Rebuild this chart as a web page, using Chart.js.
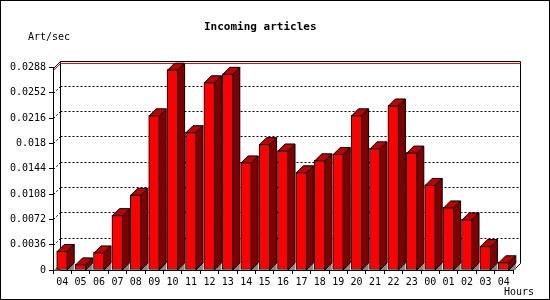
<!DOCTYPE html>
<html>
<head>
<meta charset="utf-8">
<script src="https://cdn.jsdelivr.net/npm/chart.js@4"></script>
<style>
  body { margin: 0; background: #fff; }
  #wrap { width: 550px; height: 300px; }
</style>
</head>
<body>
<div id="wrap"><canvas id="inChart" width="550" height="300"></canvas></div>
<script>
// data
const hours = ['04','05','06','07','08','09','10','11','12','13','14','15','16','17','18','19','20','21','22','23','00','01','02','03','04'];
const artPerSec = [0.0027, 0.0008, 0.0025, 0.0078, 0.0107, 0.0220, 0.0285, 0.0196, 0.0267, 0.0279, 0.0153, 0.0179, 0.0170, 0.0139, 0.0156, 0.0165, 0.0220, 0.0173, 0.0234, 0.0167, 0.0121, 0.0089, 0.0072, 0.0034, 0.0011];
const yTicks = [0, 0.0036, 0.0072, 0.0108, 0.0144, 0.018, 0.0216, 0.0252, 0.0288];
const yTickLabels = ['0', '0.0036', '0.0072', '0.0108', '0.0144', '0.018', '0.0216', '0.0252', '0.0288'];

const DEPTH = 7;
const MONO = '"DejaVu Sans Mono", "Liberation Mono", monospace';

function line(c, x1, y1, x2, y2) {
    c.beginPath();
    c.moveTo(x1, y1);
    c.lineTo(x2, y2);
    c.stroke();
}

// back wall, dotted grid and max line
const backWall = {
    id: 'backWall',
    beforeDatasetsDraw(chart) {
        const c = chart.ctx;
        const a = chart.chartArea;
        const y = chart.scales.y;
        const L = Math.round(a.left) + 0.5, R = Math.round(a.right) + 0.5;
        const T = Math.round(a.top) + 0.5, B = Math.round(a.bottom) + 0.5;
        c.save();
        c.lineWidth = 1;
        c.strokeStyle = '#000';
        c.setLineDash([2, 2]);
        yTicks.forEach(v => {
            if (v === 0 || v === yTicks[yTicks.length - 1]) return;
            const py = Math.round(y.getPixelForValue(v)) + 0.5;
            line(c, L + DEPTH, py - DEPTH, R + DEPTH, py - DEPTH);
            line(c, L, py, L + DEPTH, py - DEPTH);
        });
        c.setLineDash([]);
        // floor shadow in the left corner
        c.fillStyle = '#888';
        c.beginPath();
        c.moveTo(L, B); c.lineTo(L + DEPTH, B - DEPTH); c.lineTo(L + DEPTH, B);
        c.closePath(); c.fill();
        // frame of the back wall
        line(c, L + DEPTH, T - DEPTH, R + DEPTH, T - DEPTH);
        line(c, L + DEPTH, T - DEPTH, L + DEPTH, B - DEPTH);
        line(c, R + DEPTH, T - DEPTH, R + DEPTH, B - DEPTH);
        line(c, L, T, L + DEPTH, T - DEPTH);
        line(c, R, B, R + DEPTH, B - DEPTH);
        // max value line
        const my = Math.round(y.getPixelForValue(Math.max(...artPerSec))) + 0.5;
        c.strokeStyle = '#ff0000';
        line(c, L + DEPTH, my - DEPTH, R + DEPTH, my - DEPTH);
        line(c, L, my, L + DEPTH, my - DEPTH);
        c.restore();
    },
    afterDatasetsDraw(chart) {
        const c = chart.ctx;
        const meta = chart.getDatasetMeta(0);
        c.save();
        c.lineWidth = 1;
        c.strokeStyle = '#000';
        meta.data.forEach(bar => {
            const p = bar.getProps(['x', 'y', 'base', 'width'], true);
            const l = p.x - p.width / 2 + 0.5, r = p.x + p.width / 2 - 0.5;
            const t = p.y + 0.5, b = p.base - 0.5;
            // floor shadow
            c.fillStyle = '#888';
            c.beginPath();
            c.moveTo(r, b + 1); c.lineTo(r + DEPTH, b + 1 - DEPTH); c.lineTo(r + DEPTH, b + 1);
            c.closePath(); c.fill();
            // top face
            c.fillStyle = '#c00000';
            c.beginPath();
            c.moveTo(l, t); c.lineTo(l + DEPTH, t - DEPTH); c.lineTo(r + DEPTH, t - DEPTH); c.lineTo(r, t);
            c.closePath(); c.fill(); c.stroke();
            // side face
            c.fillStyle = '#800000';
            c.beginPath();
            c.moveTo(r, t); c.lineTo(r + DEPTH, t - DEPTH); c.lineTo(r + DEPTH, b + 1 - DEPTH); c.lineTo(r, b + 1);
            c.closePath(); c.fill(); c.stroke();
        });
        c.restore();
    },
    afterDraw(chart) {
        const c = chart.ctx;
        c.save();
        c.fillStyle = '#000';
        c.textBaseline = 'middle';
        c.font = 'bold 11px ' + MONO;
        c.fillText('Incoming articles', 204, 27);
        c.font = '10px ' + MONO;
        c.fillText('Art/sec', 28, 37);
        c.fillText('Hours', 504, 292);
        c.strokeStyle = '#000';
        c.lineWidth = 1;
        c.strokeRect(0.5, 0.5, chart.width - 1, chart.height - 1);
        c.restore();
    }
};

const ctx = document.getElementById('inChart').getContext('2d');
const inChart = new Chart(ctx, {
    type: 'bar',
    data: {
        labels: hours,
        datasets: [{
            label: 'Art/sec',
            data: artPerSec,
            backgroundColor: '#ff0000',
            borderColor: '#000',
            borderWidth: 1,
            borderSkipped: false,
            barThickness: 11
        }]
    },
    options: {
        responsive: false,
        animation: false,
        layout: { padding: { top: 67.5, right: 37, bottom: 0, left: 0 } },
        plugins: {
            legend: { display: false },
            tooltip: { enabled: false }
        },
        scales: {
            x: {
                afterFit(scale) { scale.height = 30; },
                grid: { drawOnChartArea: false, tickLength: 4, color: '#000', offset: true },
                border: { display: true, color: '#000' },
                ticks: {
                    color: '#000', padding: 2, autoSkip: false, maxRotation: 0,
                    font: { family: MONO, size: 10 }
                }
            },
            y: {
                min: 0,
                max: 0.0288,
                afterFit(scale) { scale.width = 53; },
                afterBuildTicks(scale) { scale.ticks = yTicks.map(v => ({ value: v })); },
                grid: { drawOnChartArea: false, tickLength: 4, color: '#000' },
                border: { display: true, color: '#000' },
                ticks: {
                    color: '#000', padding: 3,
                    font: { family: MONO, size: 10 },
                    callback: (v, i) => yTickLabels[i]
                }
            }
        }
    },
    plugins: [backWall]
});
</script>
</body>
</html>
